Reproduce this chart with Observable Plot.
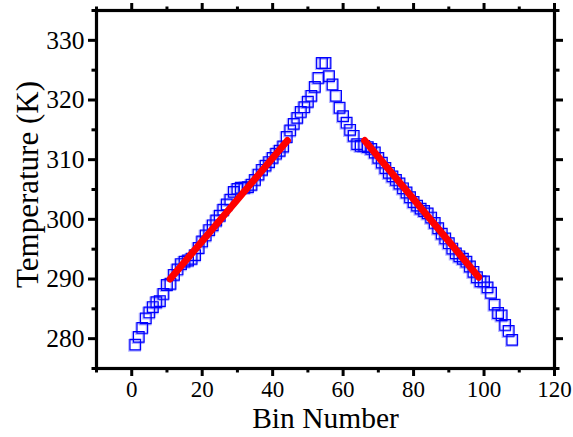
<!DOCTYPE html>
<html><head><meta charset="utf-8">
<script src="https://cdn.jsdelivr.net/npm/d3@7"></script>
<script src="https://cdn.jsdelivr.net/npm/@observablehq/plot@0.6"></script>
<style>
body{margin:0;background:#fff}
</style>
</head><body><div id="chart"></div>
<script>
const binNumbers = [1,2,3,4,5,6,7,8,9,10,11,12,13,14,15,16,17,18,19,20,21,22,23,24,25,26,27,28,29,30,31,32,33,34,35,36,37,38,39,40,41,42,43,44,45,46,47,48,49,50,51,52,53,54,55,56,57,58,59,60,61,62,63,64,65,66,67,68,69,70,71,72,73,74,75,76,77,78,79,80,81,82,83,84,85,86,87,88,89,90,91,92,93,94,95,96,97,98,99,100,101,102,103,104,105,106,107,108];
const temperatures = [279.0,280.3,281.8,283.4,284.4,285.3,286.1,286.3,287.5,289.0,289.2,290.7,291.6,292.5,292.9,293.1,293.4,294.0,295.2,296.3,297.3,298.2,299.0,299.8,300.6,301.6,302.5,303.3,304.6,305.1,305.3,305.3,305.4,305.8,306.6,307.5,308.3,309.0,309.6,310.3,311.0,311.5,312.2,313.8,314.9,316.0,317.0,318.0,318.8,319.7,320.7,322.2,323.7,326.2,326.2,324.0,322.6,320.7,318.7,317.3,316.2,315.0,314.0,312.6,312.3,312.3,312.1,311.8,311.2,310.3,309.5,308.6,307.8,307.2,306.6,306.0,305.2,304.5,303.7,302.9,302.3,301.8,301.4,301.0,300.3,299.4,298.5,297.6,296.8,296.0,295.1,294.3,293.8,293.4,292.9,292.1,291.2,290.3,289.6,289.6,288.6,287.7,285.7,284.3,283.9,282.3,281.3,279.8];
const fitLeftBins = [10.9, 44.2];
const fitLeftTemps = [290.0, 313.2];
const fitRightBins = [66.1, 98.5];
const fitRightTemps = [313.2, 290.3];
const xMajorTicks = [0,20,40,60,80,100,120];
const xMinorTicks = [-10,10,30,50,70,90,110];
const yMajorTicks = [280,290,300,310,320,330];
const yMinorTicks = [275,285,295,305,315,325,335];
const xTitle = "Bin Number";
const yTitle = "Temperature (K)";

const points = binNumbers.map((b,i)=>({bin:b, temp:temperatures[i]}));
const fits = [
  ...fitLeftBins.map((b,i)=>({bin:b, temp:fitLeftTemps[i], seg:"left"})),
  ...fitRightBins.map((b,i)=>({bin:b, temp:fitRightTemps[i], seg:"right"}))
];
const tk = {stroke:"#000", strokeWidth:3, label:null};

const plot = Plot.plot({
  width:573, height:437, marginLeft:96, marginRight:19, marginTop:10, marginBottom:69,
  style:{fontFamily:"'Liberation Serif','Times New Roman',serif", fontSize:"23px", color:"#000", background:"#fff"},
  x:{domain:[-10,120]},
  y:{domain:[275,335]},
  marks:[
    Plot.axisX({...tk, anchor:"bottom", ticks:xMajorTicks, tickSize:8, tickPadding:4, fontSize:23}),
    Plot.axisX({...tk, anchor:"bottom", ticks:xMinorTicks, tickSize:4.5, text:null}),
    Plot.axisX({...tk, anchor:"top", ticks:xMajorTicks, tickSize:8, text:null}),
    Plot.axisX({...tk, anchor:"top", ticks:xMinorTicks, tickSize:4.5, text:null}),
    Plot.axisY({...tk, anchor:"left", ticks:yMajorTicks, tickSize:8, tickPadding:4, fontSize:25.5}),
    Plot.axisY({...tk, anchor:"left", ticks:yMinorTicks, tickSize:4.5, text:null}),
    Plot.axisY({...tk, anchor:"right", ticks:yMajorTicks, tickSize:8, text:null}),
    Plot.axisY({...tk, anchor:"right", ticks:yMinorTicks, tickSize:4.5, text:null}),
    Plot.frame({stroke:"#000", strokeWidth:3.2}),
    Plot.dot(points, {x:"bin", y:"temp", symbol:"square", r:6, stroke:"#5a5aff", strokeWidth:2.2, strokeOpacity:0.45, dx:-0.7, dy:0.7}),
    Plot.dot(points, {x:"bin", y:"temp", symbol:"square", r:6, stroke:"#0000ff", strokeWidth:1.2}),
    Plot.line(fits, {x:"bin", y:"temp", z:"seg", stroke:"#ff0000", strokeWidth:7, strokeLinecap:"round"}),
    Plot.text([xTitle], {frameAnchor:"bottom", dy:59, lineAnchor:"bottom", fontSize:29.5}),
    Plot.text([yTitle], {frameAnchor:"left", textAnchor:"middle", dx:-68, dy:-5, rotate:-90, fontSize:31})
  ]
});
document.getElementById("chart").appendChild(plot);
</script>
</body></html>
